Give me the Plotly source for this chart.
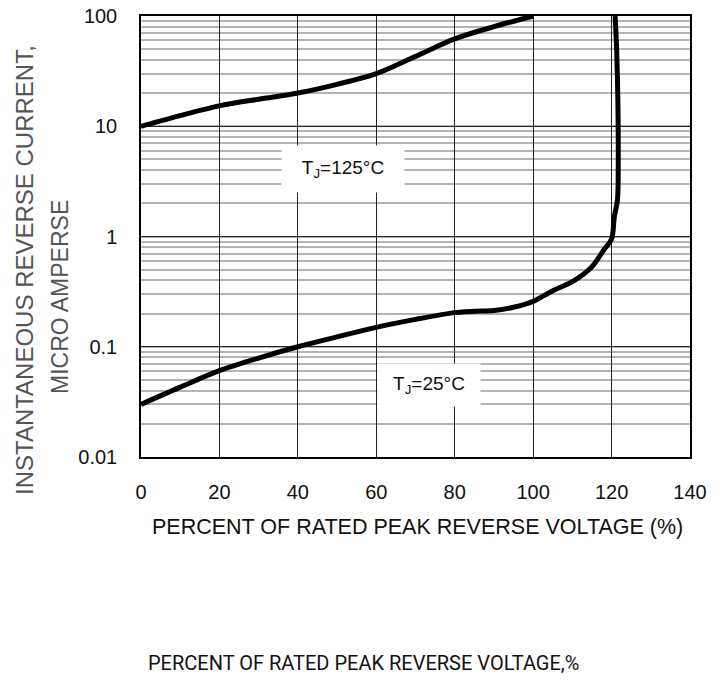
import plotly.graph_objects as go

# 125°C curve
x125 = [0, 10, 20, 30, 40, 50, 60, 70, 80, 90, 100]
y125 = [10, 12.5, 15.3, 17.6, 20, 24, 30, 43, 62, 80, 100]

# 25°C curve
x25 = [0, 10, 20, 30, 40, 50, 60, 70, 80, 85, 90, 95, 100, 105, 110, 115, 118, 120, 120.7, 121.5, 121.7, 121.6, 121.3, 120.9]
y25 = [0.030, 0.043, 0.0607, 0.079, 0.10, 0.123, 0.150, 0.177, 0.204, 0.21, 0.213, 0.228, 0.258, 0.322, 0.389, 0.532, 0.754, 0.95, 1.51, 2.14, 4.3, 17.3, 49, 100]

xticks = [0, 20, 40, 60, 80, 100, 120, 140]
yticks = [0.01, 0.1, 1, 10, 100]
yticktext = ["0.01", "0.1", "1", "10", "100"]

W, H = 723, 681
L, R, T, B = 141, 33, 16, 224
pw, ph = W - L - R, H - T - B

fig = go.Figure()
fig.add_trace(go.Scatter(x=x125, y=y125, mode="lines",
                         line=dict(color="black", width=5, shape="spline", smoothing=0.9)))
fig.add_trace(go.Scatter(x=x25, y=y25, mode="lines",
                         line=dict(color="black", width=5, shape="spline", smoothing=0.9)))

font_main = "Liberation Sans, Arial, sans-serif"

fig.update_layout(
    width=W, height=H,
    margin=dict(l=L, r=R, t=T, b=B, autoexpand=False),
    paper_bgcolor="white", plot_bgcolor="white",
    showlegend=False,
    font=dict(family=font_main, size=20, color="#111"),
    xaxis=dict(range=[0, 140], tickvals=xticks, showgrid=True, gridcolor="#222", gridwidth=1,
               showline=True, linecolor="black", linewidth=1.5, mirror=True, zeroline=False,
               ticks="", ticklabelstandoff=16, ticklabeloverflow="allow", automargin=False),
    yaxis=dict(type="log", range=[-2, 2], tickvals=yticks, ticktext=yticktext,
               showgrid=True, gridcolor="#222", gridwidth=1,
               minor=dict(dtick="D1", showgrid=True, gridcolor="#b4b4b4", gridwidth=2),
               showline=True, linecolor="black", linewidth=1.5, mirror=True, zeroline=False,
               ticks="", ticklabelstandoff=18, ticklabeloverflow="allow", automargin=False),
)

fig.add_annotation(x=51.5, y=0.612, xref="x", yref="y",
                   text="T<sub>J</sub>=125°C", showarrow=False,
                   font=dict(size=19, color="#111"), bgcolor="white", width=120, height=44)
fig.add_annotation(x=73.4, y=-1.347, xref="x", yref="y",
                   text="T<sub>J</sub>=25°C", showarrow=False,
                   font=dict(size=19, color="#111"), bgcolor="white", width=100, height=40)

# texts placed by window pixel position (x, y)
texts = [
    (24, 270, "INSTANTANEOUS REVERSE CURRENT,", 0, dict(size=24, color="#555")),
    (60, 297, "MICRO AMPERSE", 0, dict(size=23, color="#555")),
    (417, 527, "PERCENT OF RATED PEAK REVERSE VOLTAGE (%)", 1, dict(size=21.5, color="#111")),
    (363, 663, "PERCENT OF RATED PEAK REVERSE VOLTAGE,%", 1,
     dict(size=20, color="#111", family="Roboto, Liberation Sans, sans-serif")),
]
for px, py, txt, horiz, f in texts:
    fig.add_annotation(
        x=(px - L) / pw, y=(H - B - py) / ph,
        xref="paper", yref="paper", xanchor="center", yanchor="middle",
        text=txt, showarrow=False, textangle=0 if horiz else -90, font=f)

fig.write_html("out.html", config={"displayModeBar": False},
               post_script="document.body.style.margin='0';document.body.style.overflow='hidden';")
